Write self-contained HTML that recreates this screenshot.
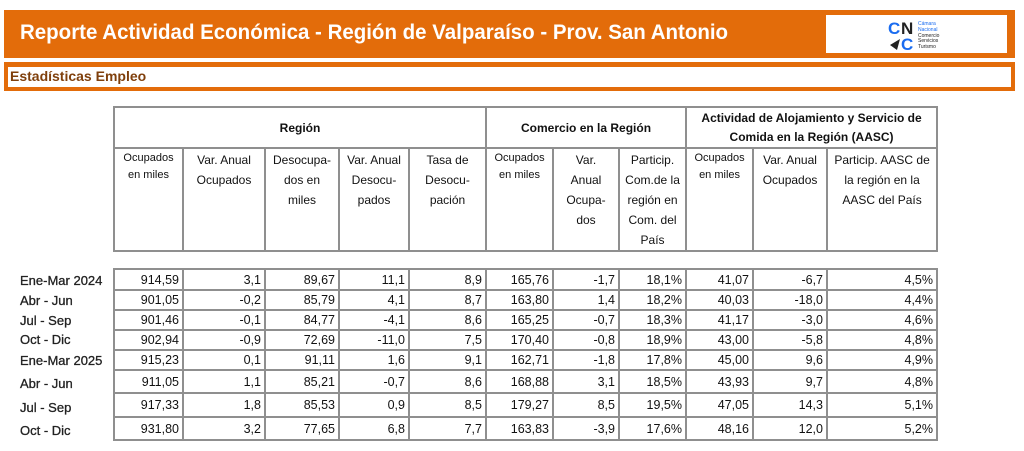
<!DOCTYPE html>
<html><head><meta charset="utf-8"><style>
*{margin:0;padding:0;box-sizing:border-box}
body{width:1024px;height:451px;background:#fff;position:relative;overflow:hidden;font-family:"Liberation Sans",sans-serif;color:#111}
.bar{position:absolute;left:4px;top:10px;width:1011px;height:48px;background:#e36c0a}
.title{position:absolute;left:20px;top:21px;color:#fff;font-weight:bold;font-size:21px;white-space:nowrap;transform:scaleX(0.975);transform-origin:left}
.logo{position:absolute;left:826px;top:15px;width:181px;height:38px;background:#fff}
.bar2{position:absolute;left:4px;top:62px;width:1011px;height:29px;background:#e36c0a}
.bar2in{position:absolute;left:8px;top:67px;width:1003px;height:20px;background:#fff}
.sub{position:absolute;left:10px;top:68px;color:#7f3f0b;font-weight:bold;font-size:14px}
table{position:absolute;border-collapse:collapse;table-layout:fixed}
td{border:2px solid #8f8f8f;font-size:12px;overflow:hidden}
.h td{text-align:center;vertical-align:top;line-height:20px;padding:1px 2px 0}
.h .g{font-weight:bold;vertical-align:middle;font-size:12px;padding:0}
.h .s{font-size:11px;line-height:17px;padding:1px 6px 0}
.d td{text-align:right;padding-right:3px;font-size:12.5px;vertical-align:middle}
.lab{position:absolute;left:20px;font-size:13px;color:#222;-webkit-text-stroke:0.3px #222}
</style></head><body>
<div class="bar"></div>
<div class="title">Reporte Actividad Económica - Región de Valparaíso - Prov. San Antonio</div>
<div class="logo">
<svg width="181" height="38">
<text x="62" y="19" font-family="Liberation Sans" font-weight="bold" font-size="17" fill="#1a6cf0">C</text>
<text x="75" y="19" font-family="Liberation Sans" font-weight="bold" font-size="17" fill="#222">N</text>
<polygon points="64,30 74,24 71,35" fill="#222"/>
<text x="75" y="35" font-family="Liberation Sans" font-weight="bold" font-size="17" fill="#1a6cf0">C</text>
<text x="92" y="10" font-size="5" fill="#1a6cf0" font-family="Liberation Sans">Cámara</text>
<text x="92" y="16" font-size="5" fill="#1a6cf0" font-family="Liberation Sans">Nacional</text>
<text x="92" y="22" font-size="5" fill="#222" font-family="Liberation Sans">Comercio</text>
<text x="92" y="27" font-size="5" fill="#222" font-family="Liberation Sans">Servicios</text>
<text x="92" y="33" font-size="5" fill="#222" font-family="Liberation Sans">Turismo</text>
</svg></div>
<div class="bar2"></div><div class="bar2in"></div>
<div class="sub">Estadísticas Empleo</div>

<table class="h" style="left:113px;top:106px;width:823px">
<colgroup><col style="width:69px"><col style="width:82px"><col style="width:74px"><col style="width:70px"><col style="width:77px"><col style="width:67px"><col style="width:66px"><col style="width:67px"><col style="width:67px"><col style="width:74px"><col style="width:110px"></colgroup>
<tr style="height:41px"><td class="g" colspan="5">Región</td><td class="g" colspan="3">Comercio en la Región</td><td class="g" colspan="3" style="line-height:19px">Actividad de Alojamiento y Servicio de Comida en la Región (AASC)</td></tr>
<tr style="height:102px"><td class="s">Ocupados en miles</td><td>Var. Anual Ocupados</td><td>Desocupa-<br>dos en<br>miles</td><td>Var. Anual Desocu-<br>pados</td><td>Tasa de Desocu-<br>pación</td><td class="s">Ocupados en miles</td><td>Var.<br>Anual Ocupa-<br>dos</td><td>Particip. Com.de la región en Com. del País</td><td class="s">Ocupados en miles</td><td>Var. Anual Ocupados</td><td>Particip. AASC de la región en la AASC del País</td></tr>
</table>

<div class="lab" style="top:273px">Ene-Mar 2024</div>
<div class="lab" style="top:293px">Abr - Jun</div>
<div class="lab" style="top:313px">Jul - Sep</div>
<div class="lab" style="top:332px">Oct - Dic</div>
<div class="lab" style="top:353px">Ene-Mar 2025</div>
<div class="lab" style="top:376px">Abr - Jun</div>
<div class="lab" style="top:400px">Jul - Sep</div>
<div class="lab" style="top:423px">Oct - Dic</div>

<table class="d" style="left:113px;top:268px;width:823px">
<colgroup><col style="width:69px"><col style="width:82px"><col style="width:74px"><col style="width:70px"><col style="width:77px"><col style="width:67px"><col style="width:66px"><col style="width:67px"><col style="width:67px"><col style="width:74px"><col style="width:110px"></colgroup>
<tr style="height:21px"><td>914,59</td><td>3,1</td><td>89,67</td><td>11,1</td><td>8,9</td><td>165,76</td><td>-1,7</td><td>18,1%</td><td>41,07</td><td>-6,7</td><td>4,5%</td></tr>
<tr style="height:20px"><td>901,05</td><td>-0,2</td><td>85,79</td><td>4,1</td><td>8,7</td><td>163,80</td><td>1,4</td><td>18,2%</td><td>40,03</td><td>-18,0</td><td>4,4%</td></tr>
<tr style="height:20px"><td>901,46</td><td>-0,1</td><td>84,77</td><td>-4,1</td><td>8,6</td><td>165,25</td><td>-0,7</td><td>18,3%</td><td>41,17</td><td>-3,0</td><td>4,6%</td></tr>
<tr style="height:20px"><td>902,94</td><td>-0,9</td><td>72,69</td><td>-11,0</td><td>7,5</td><td>170,40</td><td>-0,8</td><td>18,9%</td><td>43,00</td><td>-5,8</td><td>4,8%</td></tr>
<tr style="height:20px"><td>915,23</td><td>0,1</td><td>91,11</td><td>1,6</td><td>9,1</td><td>162,71</td><td>-1,8</td><td>17,8%</td><td>45,00</td><td>9,6</td><td>4,9%</td></tr>
<tr style="height:23px"><td>911,05</td><td>1,1</td><td>85,21</td><td>-0,7</td><td>8,6</td><td>168,88</td><td>3,1</td><td>18,5%</td><td>43,93</td><td>9,7</td><td>4,8%</td></tr>
<tr style="height:24px"><td>917,33</td><td>1,8</td><td>85,53</td><td>0,9</td><td>8,5</td><td>179,27</td><td>8,5</td><td>19,5%</td><td>47,05</td><td>14,3</td><td>5,1%</td></tr>
<tr style="height:23px"><td>931,80</td><td>3,2</td><td>77,65</td><td>6,8</td><td>7,7</td><td>163,83</td><td>-3,9</td><td>17,6%</td><td>48,16</td><td>12,0</td><td>5,2%</td></tr>
</table>
</body></html>
